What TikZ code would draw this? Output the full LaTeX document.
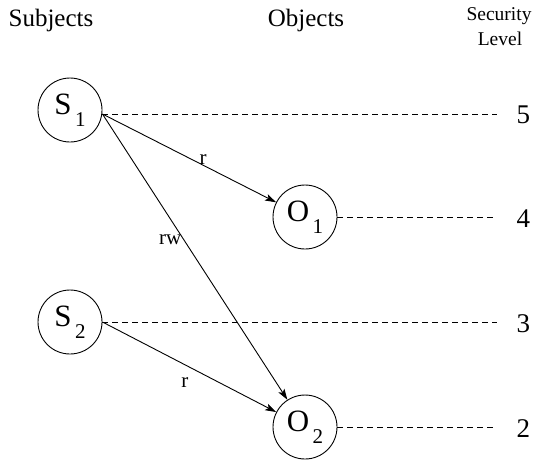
\documentclass[tikz,border=0pt]{standalone}
\usepackage{fontspec}
\setmainfont{Liberation Serif}
\usetikzlibrary{arrows.meta}
\begin{document}
\begin{tikzpicture}[x=1pt,y=-1pt,
  entity/.style={circle,draw,line width=0.9pt,minimum size=64pt,inner sep=0pt,font=\fontsize{31}{32}\selectfont},
  header/.style={font=\fontsize{25}{26}\selectfont},
  smallheader/.style={font=\fontsize{19.5}{20}\selectfont},
  levelnum/.style={font=\fontsize{27}{28}\selectfont,anchor=west},
  access/.style={line width=0.9pt,-{Stealth[length=11pt,width=7pt,inset=2.5pt]}},
  levelline/.style={line width=0.8pt,dash pattern=on 6pt off 4pt},
  accesslabel/.style={font=\fontsize{21}{22}\selectfont,inner sep=1pt}]
\useasboundingbox (0,0) rectangle (540,459);

% column headers
\node[header] (hsub) at (51,20) {Subjects};
\node[header] (hobj) at (306,20) {Objects};
\node[smallheader] (hsec) at (499,16) {Security};
\node[smallheader] (hlev) at (500,39) {Level};

% subjects and objects
\newcommand{\entlabel}[2]{#1\raisebox{-12pt}{\fontsize{21}{22}\selectfont\,#2}}
\node[entity] (S1) at (70,110) {\entlabel{S}{1}};
\node[entity] (O1) at (305,217) {\entlabel{O}{1}};
\node[entity] (S2) at (70,322) {\entlabel{S}{2}};
\node[entity] (O2) at (305,427) {\entlabel{O}{2}};

% security level markers
\coordinate (e5) at (497,114);
\coordinate (e4) at (497,217);
\coordinate (e3) at (497,322);
\coordinate (e2) at (497,427);
\node[levelnum] (L5) at (513,115) {5};
\node[levelnum] (L4) at (513,219) {4};
\node[levelnum] (L3) at (513,324) {3};
\node[levelnum] (L2) at (513,429) {2};

\coordinate (s1out) at ([yshift=-4pt]S1.east);
\draw[levelline] (s1out) -- (e5);
\draw[levelline] (O1.east) -- (e4);
\draw[levelline] (S2.east) -- (e3);
\draw[levelline] (O2.east) -- (e2);

% access rights
\draw[access] (s1out) -- (O1) node[accesslabel,pos=0.58,anchor=south,inner sep=0.5pt] (r1) {r};
\draw[access] (s1out) -- (O2) node[accesslabel,pos=0.44,left,inner sep=2pt] (rw) {rw};
\draw[access] (S2.east) -- (O2) node[accesslabel,pos=0.475,below,yshift=-11pt] (r2) {r};
\end{tikzpicture}
\end{document}
